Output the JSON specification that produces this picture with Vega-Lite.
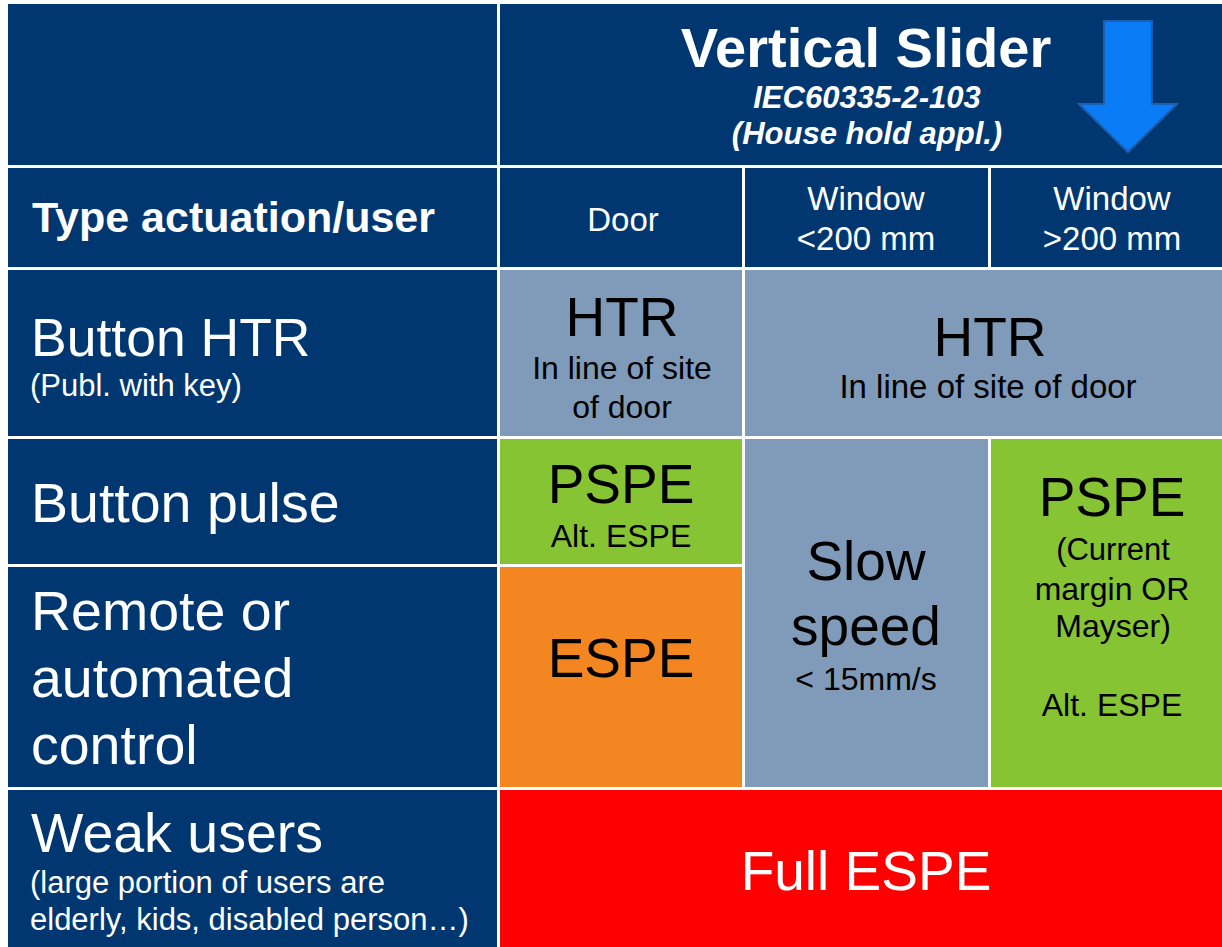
{
  "$schema": "https://vega.github.io/schema/vega-lite/v6.json",
  "width": 1222,
  "height": 947,
  "padding": 0,
  "autosize": {"type": "none"},
  "background": "#ffffff",
  "config": {"view": {"stroke": null}, "font": "Arial, Liberation Sans, Helvetica, sans-serif"},
  "datasets": {
    "cells": [
      {"x": 8, "x2": 497, "y": 4, "y2": 165, "fill": "#003770"},
      {"x": 500, "x2": 1222, "y": 4, "y2": 165, "fill": "#003770"},
      {"x": 8, "x2": 497, "y": 168, "y2": 267, "fill": "#003770"},
      {"x": 500, "x2": 742, "y": 168, "y2": 267, "fill": "#003770"},
      {"x": 745, "x2": 988, "y": 168, "y2": 267, "fill": "#003770"},
      {"x": 991, "x2": 1222, "y": 168, "y2": 267, "fill": "#003770"},
      {"x": 8, "x2": 497, "y": 270, "y2": 436, "fill": "#003770"},
      {"x": 8, "x2": 497, "y": 439, "y2": 564, "fill": "#003770"},
      {"x": 8, "x2": 497, "y": 567, "y2": 787, "fill": "#003770"},
      {"x": 8, "x2": 497, "y": 790, "y2": 947, "fill": "#003770"},
      {"x": 500, "x2": 742, "y": 270, "y2": 436, "fill": "#7f9bb9"},
      {"x": 745, "x2": 1222, "y": 270, "y2": 436, "fill": "#7f9bb9"},
      {"x": 745, "x2": 988, "y": 439, "y2": 787, "fill": "#7f9bb9"},
      {"x": 500, "x2": 742, "y": 439, "y2": 564, "fill": "#86c433"},
      {"x": 991, "x2": 1222, "y": 439, "y2": 787, "fill": "#86c433"},
      {"x": 500, "x2": 742, "y": 567, "y2": 787, "fill": "#f38620"},
      {"x": 500, "x2": 1222, "y": 790, "y2": 947, "fill": "#ff0000"}
    ],
    "arrow": [{"x": 1128, "y": 86.5}],
    "texts": [
      {"kind": "b-c", "t": "Vertical Slider", "x": 866, "y": 67, "s": 56, "c": "#ffffff"},
      {"kind": "bi-c", "t": "IEC60335-2-103", "x": 867, "y": 108, "s": 31, "c": "#ffffff"},
      {"kind": "bi-c", "t": "(House hold appl.)", "x": 867, "y": 144, "s": 31, "c": "#ffffff"},
      {"kind": "b-l", "t": "Type actuation/user", "x": 32, "y": 232, "s": 43, "c": "#ffffff"},
      {"kind": "n-c", "t": "Door", "x": 623, "y": 231, "s": 33, "c": "#ffffff"},
      {"kind": "n-c", "t": "Window", "x": 866, "y": 210, "s": 33, "c": "#ffffff"},
      {"kind": "n-c", "t": "<200 mm", "x": 866, "y": 250, "s": 33, "c": "#ffffff"},
      {"kind": "n-c", "t": "Window", "x": 1112, "y": 210, "s": 33, "c": "#ffffff"},
      {"kind": "n-c", "t": ">200 mm", "x": 1112, "y": 250, "s": 33, "c": "#ffffff"},
      {"kind": "n-l", "t": "Button HTR", "x": 31, "y": 356, "s": 53.5, "c": "#ffffff"},
      {"kind": "n-l", "t": "(Publ. with key)", "x": 30, "y": 396, "s": 31, "c": "#ffffff"},
      {"kind": "n-l", "t": "Button pulse", "x": 31, "y": 522, "s": 55.5, "c": "#ffffff"},
      {"kind": "n-l", "t": "Remote or", "x": 31, "y": 630, "s": 55.5, "c": "#ffffff"},
      {"kind": "n-l", "t": "automated", "x": 31, "y": 697, "s": 55.5, "c": "#ffffff"},
      {"kind": "n-l", "t": "control", "x": 31, "y": 764, "s": 55.5, "c": "#ffffff"},
      {"kind": "n-l", "t": "Weak users", "x": 31, "y": 852, "s": 55.5, "c": "#ffffff"},
      {"kind": "n-l", "t": "(large portion of users are", "x": 30, "y": 893, "s": 31, "c": "#ffffff"},
      {"kind": "n-l", "t": "elderly, kids, disabled person…)", "x": 30, "y": 930, "s": 31, "c": "#ffffff"},
      {"kind": "n-c", "t": "HTR", "x": 622, "y": 336, "s": 55, "c": "#000000"},
      {"kind": "n-c", "t": "In line  of site", "x": 622, "y": 379, "s": 32, "c": "#000000"},
      {"kind": "n-c", "t": "of door", "x": 622, "y": 418, "s": 32, "c": "#000000"},
      {"kind": "n-c", "t": "HTR", "x": 990, "y": 356, "s": 55, "c": "#000000"},
      {"kind": "n-c", "t": "In line  of site of door", "x": 988, "y": 398, "s": 33, "c": "#000000"},
      {"kind": "n-c", "t": "PSPE", "x": 621, "y": 503, "s": 55, "c": "#000000"},
      {"kind": "n-c", "t": "Alt. ESPE", "x": 621, "y": 547, "s": 32, "c": "#000000"},
      {"kind": "n-c", "t": "ESPE", "x": 621, "y": 677, "s": 55, "c": "#000000"},
      {"kind": "n-c", "t": "Slow", "x": 866, "y": 580, "s": 55, "c": "#000000"},
      {"kind": "n-c", "t": "speed", "x": 866, "y": 645, "s": 55, "c": "#000000"},
      {"kind": "n-c", "t": "< 15mm/s", "x": 866, "y": 690, "s": 32, "c": "#000000"},
      {"kind": "n-c", "t": "PSPE", "x": 1112, "y": 516, "s": 55, "c": "#000000"},
      {"kind": "n-c", "t": "(Current", "x": 1113, "y": 560, "s": 31, "c": "#000000"},
      {"kind": "n-c", "t": "margin OR", "x": 1112, "y": 600, "s": 32, "c": "#000000"},
      {"kind": "n-c", "t": "Mayser)", "x": 1113, "y": 637, "s": 32, "c": "#000000"},
      {"kind": "n-c", "t": "Alt. ESPE", "x": 1112, "y": 716, "s": 32, "c": "#000000"},
      {"kind": "n-c", "t": "Full ESPE", "x": 866, "y": 890, "s": 55, "c": "#ffffff"}
    ]
  },
  "layer": [
    {
      "data": {"name": "cells"},
      "mark": {"type": "rect", "strokeWidth": 0},
      "encoding": {
        "x": {"field": "x", "type": "quantitative", "scale": {"domain": [0, 1222]}, "axis": null},
        "x2": {"field": "x2"},
        "y": {"field": "y", "type": "quantitative", "scale": {"domain": [0, 947], "reverse": true}, "axis": null},
        "y2": {"field": "y2"},
        "fill": {"field": "fill", "type": "nominal", "scale": null, "legend": null}
      }
    },
    {
      "data": {"name": "arrow"},
      "mark": {"type": "point", "filled": true, "shape": "M-0.366,-1L0.366,-1L0.366,0.267L0.748,0.267L0,1L-0.748,0.267L-0.366,0.267Z", "size": 17161, "fill": "#0a7cf5", "stroke": "#1a5fb5", "strokeWidth": 2, "opacity": 1, "fillOpacity": 1, "strokeOpacity": 1},
      "encoding": {
        "x": {"field": "x", "type": "quantitative", "scale": {"domain": [0, 1222]}, "axis": null},
        "y": {"field": "y", "type": "quantitative", "scale": {"domain": [0, 947], "reverse": true}, "axis": null}
      }
    },
    {
      "data": {"name": "texts"},
      "transform": [{"filter": "datum.kind === 'n-c'"}],
      "mark": {"type": "text", "align": "center", "baseline": "alphabetic", "font": "Arial, Liberation Sans, Helvetica, sans-serif"},
      "encoding": {
        "x": {"field": "x", "type": "quantitative", "scale": {"domain": [0, 1222]}, "axis": null},
        "y": {"field": "y", "type": "quantitative", "scale": {"domain": [0, 947], "reverse": true}, "axis": null},
        "text": {"field": "t"},
        "size": {"field": "s", "type": "quantitative", "scale": null, "legend": null},
        "color": {"field": "c", "type": "nominal", "scale": null, "legend": null}
      }
    },
    {
      "data": {"name": "texts"},
      "transform": [{"filter": "datum.kind === 'n-l'"}],
      "mark": {"type": "text", "align": "left", "baseline": "alphabetic", "font": "Arial, Liberation Sans, Helvetica, sans-serif"},
      "encoding": {
        "x": {"field": "x", "type": "quantitative", "scale": {"domain": [0, 1222]}, "axis": null},
        "y": {"field": "y", "type": "quantitative", "scale": {"domain": [0, 947], "reverse": true}, "axis": null},
        "text": {"field": "t"},
        "size": {"field": "s", "type": "quantitative", "scale": null, "legend": null},
        "color": {"field": "c", "type": "nominal", "scale": null, "legend": null}
      }
    },
    {
      "data": {"name": "texts"},
      "transform": [{"filter": "datum.kind === 'b-l'"}],
      "mark": {"type": "text", "align": "left", "baseline": "alphabetic", "font": "Arial, Liberation Sans, Helvetica, sans-serif", "fontWeight": "bold"},
      "encoding": {
        "x": {"field": "x", "type": "quantitative", "scale": {"domain": [0, 1222]}, "axis": null},
        "y": {"field": "y", "type": "quantitative", "scale": {"domain": [0, 947], "reverse": true}, "axis": null},
        "text": {"field": "t"},
        "size": {"field": "s", "type": "quantitative", "scale": null, "legend": null},
        "color": {"field": "c", "type": "nominal", "scale": null, "legend": null}
      }
    },
    {
      "data": {"name": "texts"},
      "transform": [{"filter": "datum.kind === 'b-c'"}],
      "mark": {"type": "text", "align": "center", "baseline": "alphabetic", "font": "Arial, Liberation Sans, Helvetica, sans-serif", "fontWeight": "bold"},
      "encoding": {
        "x": {"field": "x", "type": "quantitative", "scale": {"domain": [0, 1222]}, "axis": null},
        "y": {"field": "y", "type": "quantitative", "scale": {"domain": [0, 947], "reverse": true}, "axis": null},
        "text": {"field": "t"},
        "size": {"field": "s", "type": "quantitative", "scale": null, "legend": null},
        "color": {"field": "c", "type": "nominal", "scale": null, "legend": null}
      }
    },
    {
      "data": {"name": "texts"},
      "transform": [{"filter": "datum.kind === 'bi-c'"}],
      "mark": {"type": "text", "align": "center", "baseline": "alphabetic", "font": "Arial, Liberation Sans, Helvetica, sans-serif", "fontWeight": "bold", "fontStyle": "italic"},
      "encoding": {
        "x": {"field": "x", "type": "quantitative", "scale": {"domain": [0, 1222]}, "axis": null},
        "y": {"field": "y", "type": "quantitative", "scale": {"domain": [0, 947], "reverse": true}, "axis": null},
        "text": {"field": "t"},
        "size": {"field": "s", "type": "quantitative", "scale": null, "legend": null},
        "color": {"field": "c", "type": "nominal", "scale": null, "legend": null}
      }
    }
  ]
}
